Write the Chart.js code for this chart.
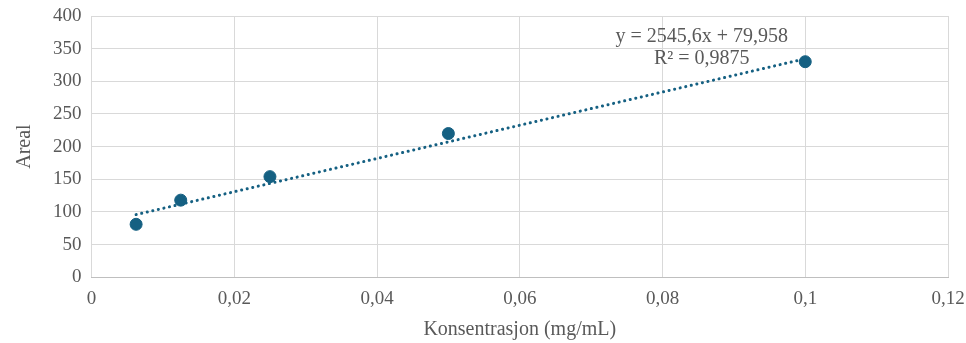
<!DOCTYPE html>
<html>
<head>
<meta charset="utf-8">
<script src="https://cdn.jsdelivr.net/npm/chart.js@4/dist/chart.umd.min.js"></script>
<style>
  body { margin: 0; background: #fff; }
  #wrap { width: 966px; height: 343px; }
</style>
</head>
<body>
<div id="wrap"><canvas id="myChart"></canvas></div>
<script>
// konsentrasjon (mg/mL) og areal lest av figuren
var konsentrasjon = [0.00625, 0.0125, 0.025, 0.05, 0.1];
var areal = [81, 118, 154, 220, 330];
// trendlinje fra ligningen i figuren
var stigning = 2545.6;
var konstant = 79.958;
var trendTekst = ['y = 2545,6x + 79,958', 'R² = 0,9875'];

var punkter = [];
for (var i = 0; i < konsentrasjon.length; i++) {
  punkter.push({x: konsentrasjon[i], y: areal[i]});
}
var xStart = konsentrasjon[0];
var xSlutt = konsentrasjon[konsentrasjon.length - 1];
var trend = [
  {x: xStart, y: stigning * xStart + konstant},
  {x: xSlutt, y: stigning * xSlutt + konstant}
];

var farge = '#156082';
var font = '"Liberation Serif", "Times New Roman", serif';

// tegner ligningen for trendlinjen
var trendLabel = {
  id: 'trendLabel',
  afterDatasetsDraw: function (chart) {
    var ctx = chart.ctx;
    var xs = chart.scales.x;
    var ys = chart.scales.y;
    var cx = xs.getPixelForValue(0.0855);
    ctx.save();
    ctx.font = '20px ' + font;
    ctx.fillStyle = '#595959';
    ctx.textAlign = 'center';
    ctx.textBaseline = 'middle';
    ctx.fillText(trendTekst[0], cx, ys.getPixelForValue(368));
    ctx.fillText(trendTekst[1], cx, ys.getPixelForValue(335));
    ctx.restore();
  }
};

function komma(v) {
  return String(Math.round(v * 1000) / 1000).replace('.', ',');
}

new Chart(document.getElementById('myChart'), {
  type: 'scatter',
  data: {
    datasets: [{
      data: punkter,
      backgroundColor: farge,
      borderColor: farge,
      pointRadius: 6,
      pointHoverRadius: 6,
      order: 1
    }, {
      type: 'line',
      data: trend,
      borderColor: farge,
      borderWidth: 3,
      borderDash: [0.1, 5.6],
      borderCapStyle: 'round',
      pointRadius: 0,
      fill: false,
      order: 2
    }]
  },
  options: {
    responsive: true,
    maintainAspectRatio: false,
    animation: false,
    layout: { padding: {left: 13, right: 0, top: 0, bottom: 1} },
    plugins: {
      legend: { display: false },
      tooltip: { enabled: false }
    },
    scales: {
      x: {
        type: 'linear',
        min: 0,
        max: 0.12,
        afterFit: function (scale) { scale.paddingRight = 18; },
        ticks: {
          stepSize: 0.02,
          color: '#595959',
          font: { family: font, size: 19 },
          padding: 10,
          maxRotation: 0,
          callback: function (v) { return komma(v); }
        },
        grid: { color: '#d9d9d9', tickLength: 0, lineWidth: 1 },
        border: { color: '#bfbfbf' },
        title: {
          display: true,
          text: 'Konsentrasjon (mg/mL)',
          color: '#595959',
          font: { family: font, size: 20 },
          padding: {top: -2, bottom: 0}
        }
      },
      y: {
        min: 0,
        max: 400,
        afterFit: function (scale) { scale.paddingTop = 16; },
        ticks: {
          stepSize: 50,
          color: '#595959',
          font: { family: font, size: 19 },
          padding: 10
        },
        grid: { color: '#d9d9d9', tickLength: 0, lineWidth: 1 },
        border: { display: false },
        title: {
          display: true,
          text: 'Areal',
          color: '#595959',
          font: { family: font, size: 20 },
          padding: {top: 0, bottom: 6}
        }
      }
    }
  },
  plugins: [trendLabel]
});
</script>
</body>
</html>
